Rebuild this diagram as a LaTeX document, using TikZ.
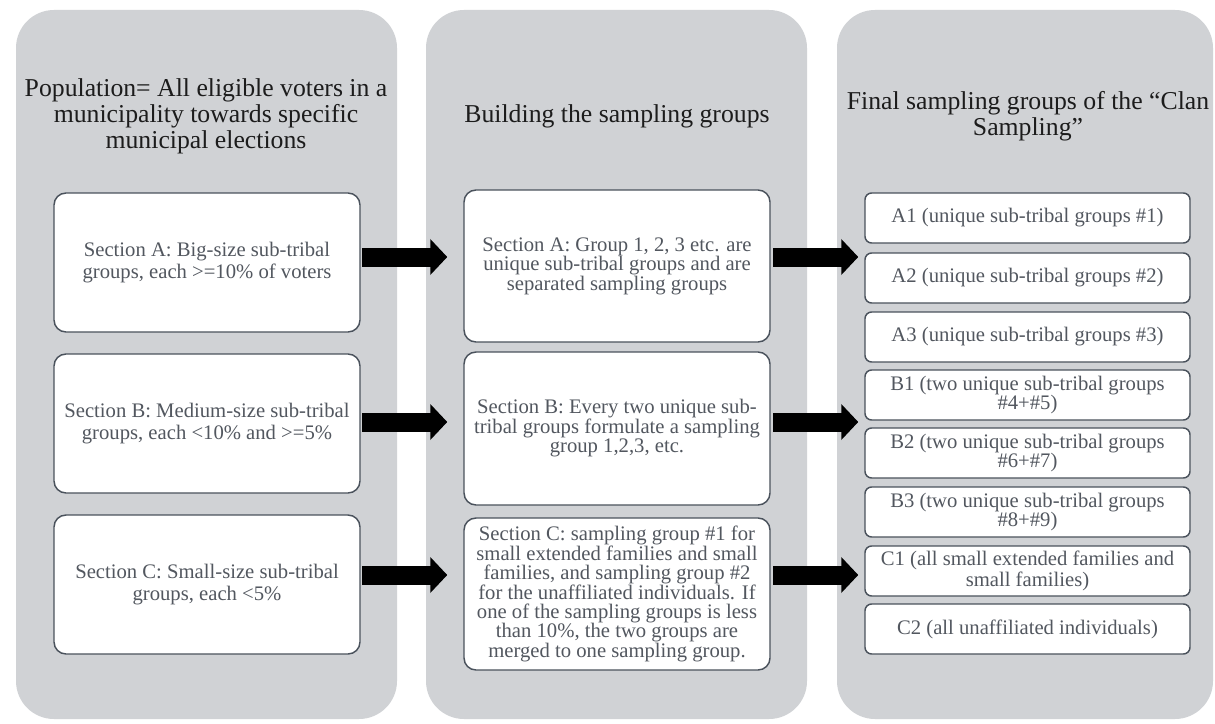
\documentclass[tikz,border=0pt]{standalone}
\usepackage{fontspec}
\setmainfont{Liberation Serif}
\usetikzlibrary{arrows.meta,fit}
\definecolor{panelgray}{HTML}{D0D2D5}
\definecolor{boxline}{HTML}{4A525C}
\definecolor{boxtext}{HTML}{52575F}
\definecolor{titletext}{HTML}{1C1C1C}
\tikzset{
  panel/.style={fill=panelgray, draw=none, rounded corners=28.5pt, inner sep=0pt},
  titletxt/.style={text=titletext, align=center, font=\fontsize{19.3}{19.5}\selectfont, inner sep=0pt},
  bigbox/.style={draw=boxline, fill=white, line width=1.1pt, rounded corners=9pt,
    text=boxtext, align=center, inner sep=0pt, minimum width=229.5pt},
  leftbox/.style={bigbox, minimum height=104.25pt, font=\fontsize{15.5}{17}\selectfont},
  midbox/.style={bigbox, minimum height=114pt, font=\fontsize{15.5}{14.6}\selectfont},
  smallbox/.style={draw=boxline, fill=white, line width=1.1pt, rounded corners=5pt,
    text=boxtext, align=center, inner sep=0pt, minimum width=243.75pt, minimum height=37.5pt,
    font=\fontsize{15.5}{14.2}\selectfont},
  bigarrow/.style={draw=black, line width=14.25pt, -{Triangle[width=26.25pt,length=12.75pt]}}
}
\begin{document}
\begin{tikzpicture}[x=0.75pt,y=-0.75pt]
\useasboundingbox (0,0) rectangle (1215,724);
\fill[white] (0,0) rectangle (1215,724);

% panels
\node[panel, fit={(16,10) (397,719)}] (p1) {};
\node[panel, fit={(426,10) (807,719)}] (p2) {};
\node[panel, fit={(837,10) (1213,719)}] (p3) {};

% titles
\node[titletxt] (t1) at (206,116) {Population= All eligible voters in a\\municipality towards specific\\municipal elections};
\node[titletxt] (t2) at (617,116) {Building the sampling groups};
\node[titletxt] (t3) at (1028,116) {Final sampling groups of the “Clan\\Sampling”};

% column 1
\node[leftbox] (la) at (207,262.5) {Section A: Big-size sub-tribal\\groups, each >=10\% of voters};
\node[leftbox] (lb) at (207,423.5) {Section B: Medium-size sub-tribal\\groups, each <10\% and >=5\%};
\node[leftbox] (lc) at (207,584.5) {Section C: Small-size sub-tribal\\groups, each <5\%};

% column 2
\node[midbox] (ma) at (617,266) {Section A: Group 1, 2, 3 etc. are\\unique sub-tribal groups and are\\separated sampling groups};
\node[midbox, minimum height=114.75pt] (mb) at (617,428.5) {Section B: Every two unique sub-\\tribal groups formulate a sampling\\group 1,2,3, etc.};
\node[midbox] (mc) at (617,594) {Section C: sampling group \#1 for\\small extended families and small\\families, and sampling group \#2\\for the unaffiliated individuals. If\\one of the sampling groups is less\\than 10\%, the two groups are\\merged to one sampling group.};

% column 3
\node[smallbox] (a1) at (1027.5,218) {A1 (unique sub-tribal groups \#1)};
\node[smallbox] (a2) at (1027.5,278) {A2 (unique sub-tribal groups \#2)};
\node[smallbox] (a3) at (1027.5,337) {A3 (unique sub-tribal groups \#3)};
\node[smallbox] (b1) at (1027.5,395) {B1 (two unique sub-tribal groups\\\#4+\#5)};
\node[smallbox] (b2) at (1027.5,453) {B2 (two unique sub-tribal groups\\\#6+\#7)};
\node[smallbox] (b3) at (1027.5,512) {B3 (two unique sub-tribal groups\\\#8+\#9)};
\node[smallbox] (c1) at (1027.5,571) {C1 (all small extended families and\\small families)};
\node[smallbox] (c2) at (1027.5,629) {C2 (all unaffiliated individuals)};

% arrow rows
\coordinate (ra) at (0,257);
\coordinate (rb) at (0,422);
\coordinate (rc) at (0,575);

\draw[bigarrow, shorten <=1.2pt, shorten >=12pt] (la.east |- ra) -- (ma.west |- ra);
\draw[bigarrow, shorten <=1.2pt, shorten >=12pt] (lb.east |- rb) -- (mb.west |- rb);
\draw[bigarrow, shorten <=1.2pt, shorten >=12pt] (lc.east |- rc) -- (mc.west |- rc);

\draw[bigarrow, shorten <=2pt, shorten >=4.5pt] (ma.east |- ra) -- (a2.west |- ra);
\draw[bigarrow, shorten <=2pt, shorten >=4.5pt] (mb.east |- rb) -- (b1.west |- rb);
\draw[bigarrow, shorten <=2pt, shorten >=4.5pt] (mc.east |- rc) -- (c1.west |- rc);
\end{tikzpicture}
\end{document}
